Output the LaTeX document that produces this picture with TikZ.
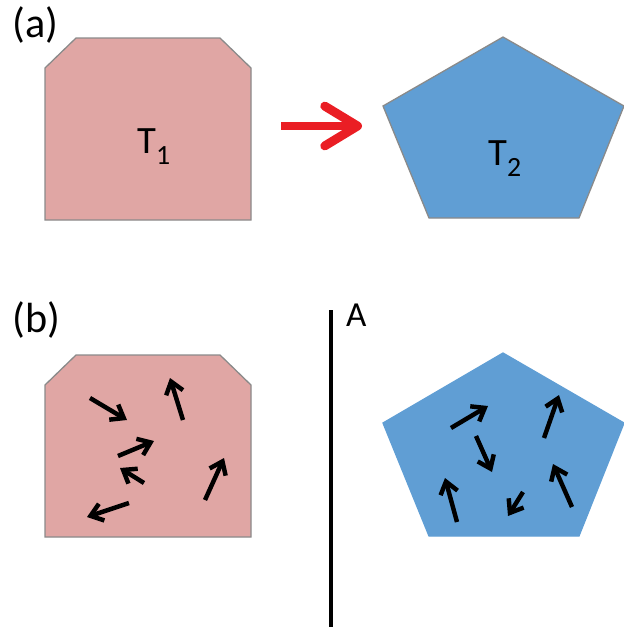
\documentclass[tikz,border=0pt]{standalone}
\usepackage{fontspec}
\setmainfont{Carlito}
\usetikzlibrary{arrows.meta}
\definecolor{pink}{RGB}{224,166,164}
\definecolor{blue}{RGB}{96,158,212}
\definecolor{red}{RGB}{234,30,36}
\definecolor{rim}{RGB}{138,138,138}
\newcommand\tsub[1]{\raisebox{-.3em}{\scalebox{.72}{#1}}}

\begin{document}
\begin{tikzpicture}[x=.03cm,y=-.03cm,
  oldbox/.style={fill=pink,draw=rim,line width=1.1pt},
  newbox/.style={fill=blue,draw=rim,line width=1.1pt},
  spin/.style={line width=3.8pt,-{Straight Barb[length=10pt,width=15pt]}},
  tag/.style={font=\fontsize{36}{40}\selectfont,anchor=base west,inner sep=0pt}]
\useasboundingbox (0,0) rectangle (624,632);
% (a) the two shapes
\begin{scope}
\filldraw[oldbox] (45,68)--(76,38)--(220,38)--(251,68)--(251,220)--(45,220)--cycle;
\filldraw[newbox] (503,37)--(624,106)--(579,218)--(429,218)--(383,106)--cycle;
\node[tag] (labela) at (12,37){(a)};
\node[tag,font=\fontsize{33}{36}\selectfont] (tone) at (137,153){T\tsub{1}};
\node[tag,font=\fontsize{33}{36}\selectfont] (ttwo) at (488,165){T\tsub{2}};
\coordinate (from) at (281,126);
\coordinate (to) at (362,126);
\draw[red,line width=7.6pt,-{Straight Barb[round,length=28pt,width=34pt]}] (from)--(to);
\end{scope}
% (b) the same shapes, with their spins
\begin{scope}[shift={(0,317)}]
\filldraw[oldbox] (45,68)--(76,38)--(220,38)--(251,68)--(251,220)--(45,220)--cycle;
\filldraw[newbox,draw=blue] (503,36)--(624,106)--(579,219)--(429,219)--(383,106)--cycle;
\end{scope}
\node[tag] (labelb) at (12,332){(b)};
\draw[spin] (90,398)--(127,420);
\draw[spin] (183,420)--(170,378);
\draw[spin] (118,456)--(154,441);
\draw[spin] (144,483)--(120,468);
\draw[spin] (205,500)--(224,458);
\draw[spin] (129,503)--(87,517);
\draw[spin] (451,428)--(488,406);
\draw[spin] (544,438)--(559,395);
\draw[spin] (476,436)--(492,472);
\draw[spin] (457,522)--(445,478);
\draw[spin] (523,492)--(508,516);
\draw[spin] (572,507)--(553,464);
% the wall
\coordinate (walltop) at (331,310);
\coordinate (wallend) at (331,627);
\draw[line width=4pt] (walltop)--(wallend);
\node[tag,font=\fontsize{30}{34}\selectfont] (wall) at (346,326){A};
\end{tikzpicture}
\end{document}
